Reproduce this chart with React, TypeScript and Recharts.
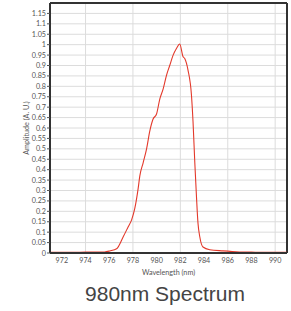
import { LineChart, Line, XAxis, YAxis, CartesianGrid, ReferenceLine } from 'recharts';

// wavelength (nm) and normalised amplitude
const wavelength = [
  971, 972, 973, 974, 975, 975.6, 976.05, 976.62, 977.18, 977.6, 977.88, 978.16, 978.44, 978.58,
  978.86, 979.15, 979.42, 979.7, 979.99, 980.27, 980.55, 980.83, 981.11, 981.39, 981.67, 981.95,
  982.23, 982.37, 982.65, 982.94, 983.07, 983.22, 983.36, 983.49, 983.64, 983.91, 984.48, 985.6,
  987, 988, 989, 990, 991,
];
const amplitude = [
  0.003, 0.003, 0.003, 0.004, 0.004, 0.005, 0.01, 0.02, 0.078, 0.126, 0.158, 0.215, 0.31, 0.37,
  0.433, 0.5, 0.585, 0.643, 0.667, 0.74, 0.788, 0.853, 0.901, 0.95, 0.982, 1.003,
  0.942, 0.934, 0.877, 0.756, 0.63, 0.433, 0.271, 0.142, 0.078, 0.029, 0.016, 0.01,
  0.005, 0.004, 0.003, 0.003, 0.003,
];
const xTicks = [972, 974, 976, 978, 980, 982, 984, 986, 988, 990];
const xGrid = [974, 978, 982, 986, 990];
const yTicks = [
  0, 0.05, 0.1, 0.15, 0.2, 0.25, 0.3, 0.35, 0.4, 0.45, 0.5, 0.55, 0.6, 0.65, 0.7, 0.75, 0.8,
  0.85, 0.9, 0.95, 1, 1.05, 1.1, 1.15,
];
const yGrid = [...yTicks, 1.2];

const data = wavelength.map((w, i) => ({ w, a: amplitude[i] }));

const font = 'Lato, sans-serif';
const tickStyle = { fontSize: 7.2, fill: '#555', fontFamily: font };

export default function App() {
  return (
    <div style={{ position: 'absolute', left: 0, top: 0, width: 291, height: 311, background: '#fff' }}>
      <LineChart width={291} height={280} data={data} margin={{ top: 3, right: 4, left: 0, bottom: 0 }}>
        <CartesianGrid stroke="#dcdcdc" horizontalValues={yGrid} verticalValues={xGrid} />
        <XAxis
          dataKey="w"
          type="number"
          domain={[971, 991]}
          ticks={xTicks}
          tick={tickStyle}
          tickSize={0}
          tickMargin={5}
          height={27}
          axisLine={{ stroke: '#333', strokeWidth: 2 }}
          label={{ value: 'Wavelength (nm)', position: 'insideBottom', offset: 5, fontSize: 7.2, fill: '#555', fontFamily: font }}
        />
        <YAxis
          type="number"
          domain={[0, 1.2]}
          ticks={yTicks}
          interval={0}
          tick={tickStyle}
          tickSize={3}
          tickLine={{ stroke: '#555' }}
          tickMargin={1}
          width={50}
          axisLine={{ stroke: '#333', strokeWidth: 2 }}
          label={{ value: 'Amplitude (A. U.)', angle: -90, position: 'insideLeft', offset: 26, fontSize: 7.2, fill: '#555', fontFamily: font, style: { textAnchor: 'middle' } }}
        />
        <ReferenceLine x={991} stroke="#333" strokeWidth={2} />
        <ReferenceLine y={1.2} stroke="#333" strokeWidth={2} />
        <Line
          dataKey="a"
          type="monotone"
          stroke="#e3392b"
          strokeWidth={1.1}
          dot={false}
          isAnimationActive={false}
        />
      </LineChart>
      <div
        style={{
          position: 'absolute',
          left: 40,
          width: 250,
          top: 282,
          textAlign: 'center',
          fontFamily: 'Liberation Sans, Arial, sans-serif',
          fontSize: 21,
          color: '#444',
        }}
      >
        980nm Spectrum
      </div>
    </div>
  );
}
